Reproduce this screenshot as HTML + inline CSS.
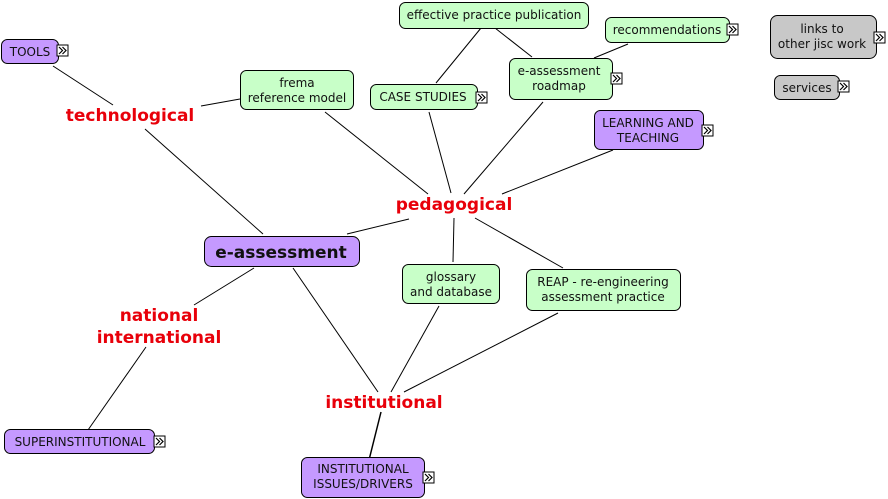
<!DOCTYPE html>
<html><head><meta charset="utf-8"><style>
html,body{margin:0;padding:0;background:#fff;}
svg{display:block;}
text{font-family:"DejaVu Sans","Liberation Sans",sans-serif;font-size:12px;fill:#111;}
.r{fill:#e8000a;font-weight:bold;font-size:17px;}
.g{fill:#c8ffc8;stroke:#000;stroke-width:1;}
.p{fill:#c599ff;stroke:#000;stroke-width:1;}
.y{fill:#c8c8c8;stroke:#000;stroke-width:1;}
line{stroke:#000;stroke-width:1;}
</style></head><body>
<svg width="888" height="499" viewBox="0 0 888 499" xmlns="http://www.w3.org/2000/svg">
<defs>
<g id="ic"><rect x="0" y="0" width="11" height="11" fill="#fff" stroke="#000"/><path d="M2 2 L5.5 5.5 L2 9 M5.5 2 L9 5.5 L5.5 9" fill="none" stroke="#000" stroke-width="1.2"/></g>
</defs>
<!-- lines -->
<line x1="53" y1="66" x2="113" y2="105"/>
<line x1="201" y1="106" x2="240" y2="99"/>
<line x1="145" y1="129" x2="263" y2="234"/>
<line x1="325" y1="112" x2="428" y2="194"/>
<line x1="429" y1="112" x2="451" y2="193"/>
<line x1="543" y1="102" x2="464" y2="194"/>
<line x1="613" y1="150" x2="502" y2="194"/>
<line x1="347" y1="234" x2="409" y2="219"/>
<line x1="454" y1="218" x2="453" y2="262"/>
<line x1="475" y1="218" x2="563" y2="268"/>
<line x1="481" y1="28" x2="436" y2="83"/>
<line x1="495" y1="28" x2="532" y2="57"/>
<line x1="594" y1="58" x2="628" y2="44"/>
<line x1="254" y1="268" x2="194" y2="305"/>
<line x1="146" y1="347" x2="88" y2="430"/>
<line x1="293" y1="268" x2="378" y2="392"/>
<line x1="439" y1="306" x2="391" y2="392"/>
<line x1="558" y1="313" x2="404" y2="392"/>
<line x1="381" y1="412" x2="369" y2="460" style="stroke-width:1.5"/>
<!-- boxes -->
<rect class="p" x="1.5" y="39.5" width="57" height="24" rx="6"/><text x="30" y="56" text-anchor="middle">TOOLS</text><use href="#ic" x="57" y="45"/>
<rect class="g" x="399.5" y="2.5" width="189" height="26" rx="6"/><text x="494" y="19" text-anchor="middle">effective practice publication</text>
<rect class="g" x="605.5" y="17.5" width="124" height="25" rx="6"/><text x="667" y="34" text-anchor="middle">recommendations</text><use href="#ic" x="727" y="24"/>
<rect class="y" x="770.5" y="15.5" width="106" height="43" rx="7"/><text x="822" y="33" text-anchor="middle">links to</text><text x="822" y="48" text-anchor="middle">other jisc work</text><use href="#ic" x="874" y="32"/>
<rect class="y" x="774.5" y="75.5" width="65" height="24" rx="6"/><text x="807" y="92" text-anchor="middle">services</text><use href="#ic" x="838" y="81"/>
<rect class="g" x="240.5" y="70.5" width="113" height="39" rx="6"/><text x="297" y="87" text-anchor="middle">frema</text><text x="297" y="102" text-anchor="middle">reference model</text>
<rect class="g" x="370.5" y="84.5" width="107" height="25" rx="6"/><text x="423" y="101" text-anchor="middle">CASE STUDIES</text><use href="#ic" x="476" y="92"/>
<rect class="g" x="509.5" y="58.5" width="103" height="41" rx="6"/><text x="559" y="75" text-anchor="middle">e-assessment</text><text x="559" y="90" text-anchor="middle">roadmap</text><use href="#ic" x="611" y="73"/>
<rect class="p" x="594.5" y="110.5" width="109" height="39" rx="6"/><text x="648" y="127" text-anchor="middle">LEARNING AND</text><text x="648" y="142" text-anchor="middle">TEACHING</text><use href="#ic" x="702" y="125"/>
<rect class="p" x="204.5" y="236.5" width="155" height="30" rx="7"/><text x="281" y="258" text-anchor="middle" style="font-weight:bold;font-size:17px">e-assessment</text>
<rect class="g" x="402.5" y="264.5" width="97" height="39" rx="6"/><text x="451" y="281" text-anchor="middle">glossary</text><text x="451" y="296" text-anchor="middle">and database</text>
<rect class="g" x="526.5" y="269.5" width="154" height="41" rx="6"/><text x="603" y="286" text-anchor="middle">REAP - re-engineering</text><text x="603" y="301" text-anchor="middle">assessment practice</text>
<rect class="p" x="4.5" y="429.5" width="150" height="24" rx="6"/><text x="80" y="446" text-anchor="middle">SUPERINSTITUTIONAL</text><use href="#ic" x="154" y="436"/>
<rect class="p" x="301.5" y="457.5" width="123" height="40" rx="6"/><text x="363" y="473" text-anchor="middle">INSTITUTIONAL</text><text x="363" y="488" text-anchor="middle">ISSUES/DRIVERS</text><use href="#ic" x="423" y="472"/>
<!-- labels -->
<text class="r" x="130" y="121" text-anchor="middle">technological</text>
<text class="r" x="454" y="210" text-anchor="middle">pedagogical</text>
<text class="r" x="159" y="321" text-anchor="middle">national</text>
<text class="r" x="159" y="343" text-anchor="middle">international</text>
<text class="r" x="384" y="408" text-anchor="middle">institutional</text>
</svg>
</body></html>
